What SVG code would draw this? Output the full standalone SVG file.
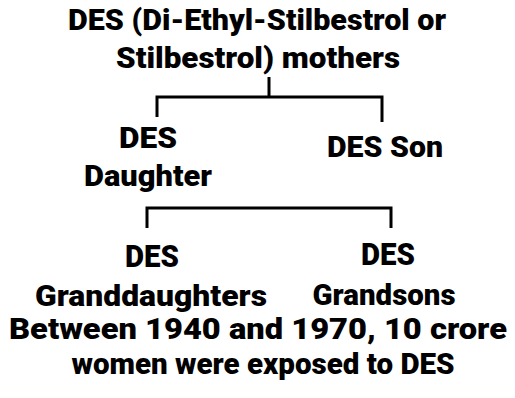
<svg xmlns="http://www.w3.org/2000/svg" width="515" height="398" viewBox="0 0 515 398">
<style>
text{font-family:Roboto,"Noto Sans","DejaVu Sans",sans-serif;font-weight:900;fill:#000;text-anchor:middle}
.t{font-size:29px}
.d{font-size:31px}
.b{font-size:29.5px}
.c{fill:none;stroke:#000;stroke-width:3}
</style>
<rect width="515" height="398" fill="#fff"/>
<g id="mothers">
<text class="t" x="257" y="30" textLength="378" lengthAdjust="spacingAndGlyphs">DES (Di-Ethyl-Stilbestrol or</text>
<text class="t" x="258" y="68" textLength="284" lengthAdjust="spacingAndGlyphs">Stilbestrol) mothers</text>
</g>
<g id="daughter">
<text class="t" x="148" y="148" textLength="58" lengthAdjust="spacingAndGlyphs">DES</text>
<text class="t" x="148" y="186" textLength="128" lengthAdjust="spacingAndGlyphs">Daughter</text>
</g>
<g id="son">
<text class="t" x="385" y="157" textLength="116" lengthAdjust="spacingAndGlyphs">DES Son</text>
</g>
<g id="granddaughters">
<text class="d" x="152" y="267" textLength="54" lengthAdjust="spacingAndGlyphs">DES</text>
<text class="t" x="151" y="306" textLength="232" lengthAdjust="spacingAndGlyphs">Granddaughters</text>
</g>
<g id="grandsons">
<text class="d" x="388" y="265" textLength="54" lengthAdjust="spacingAndGlyphs">DES</text>
<text class="t" x="384" y="305" textLength="143" lengthAdjust="spacingAndGlyphs">Grandsons</text>
</g>
<g id="note">
<text class="b" x="258" y="339" textLength="498" lengthAdjust="spacingAndGlyphs">Between 1940 and 1970, 10 crore</text>
<text class="b" x="263" y="374" textLength="383" lengthAdjust="spacingAndGlyphs">women were exposed to DES</text>
</g>
<g id="connectors">
<path class="c" d="M269,77 V97 M157,117 V97 H382 V122"/>
<path class="c" d="M147,228 V208 H391 V228"/>
</g>
</svg>
